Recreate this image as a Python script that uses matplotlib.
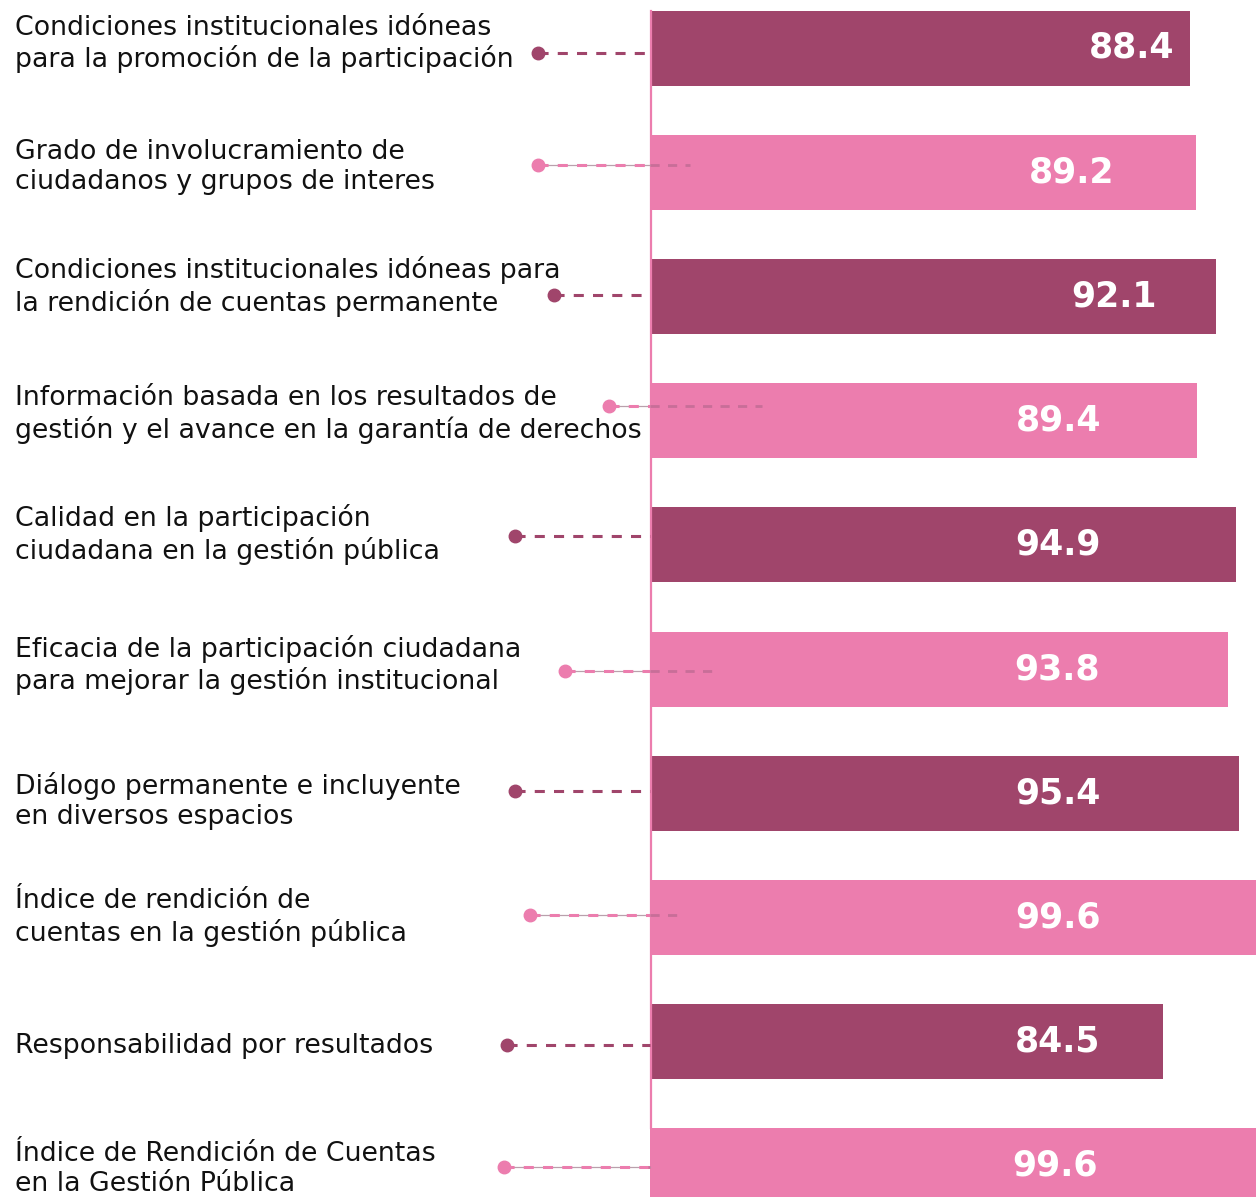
import matplotlib
matplotlib.use("Agg")
import matplotlib.pyplot as plt

categories = [
    "Condiciones institucionales idóneas\npara la promoción de la participación",
    "Grado de involucramiento de\nciudadanos y grupos de interes",
    "Condiciones institucionales idóneas para\nla rendición de cuentas permanente",
    "Información basada en los resultados de\ngestión y el avance en la garantía de derechos",
    "Calidad en la participación\nciudadana en la gestión pública",
    "Eficacia de la participación ciudadana\npara mejorar la gestión institucional",
    "Diálogo permanente e incluyente\nen diversos espacios",
    "Índice de rendición de\ncuentas en la gestión pública",
    "Responsabilidad por resultados",
    "Índice de Rendición de Cuentas\nen la Gestión Pública",
]
values = [88.4, 89.2, 92.1, 89.4, 94.9, 93.8, 95.4, 99.6, 84.5, 99.6]

DARK = "#A0456B"
PINK = "#EC7DAE"
colors = [DARK if i % 2 == 0 else PINK for i in range(len(values))]

# layout (pixels) - connector start / end, vertical nudges, value label nudges
W, H = 1256, 1197
dot_x = [538, 538, 554, 609, 515, 565, 515, 530, 507, 504]
dash_end = [650, 690, 650, 762, 650, 716, 650, 682, 650, 648]
dot_dy = [5, -7, -1, -15, -9, 2, -2, -2, 3, 1]
text_dy = [-4, -5, -10, -6, -10, -4, 8, 0, 4, 3]
label_nudge = [74, 14, 56, 1, 0, -1, 0, 0, 0, -3]
BAR0, STEP, BAR_H = 48, 124.2, 75
X0_PX, PX_PER_UNIT, V0 = 650, 7.015, 11.38

fig = plt.figure(figsize=(W / 100, H / 100), dpi=100)
ax = fig.add_axes([X0_PX / W, 0, (W - X0_PX) / W, 1])
ys = list(range(len(values)))
ax.barh(ys, values, height=BAR_H / STEP, color=colors, zorder=2)
ax.set_xlim(V0, V0 + (W - X0_PX) / PX_PER_UNIT)
ax.set_ylim((H - BAR0) / STEP, -BAR0 / STEP)
ax.axis("off")

for i, v in enumerate(values):
    lx = V0 + (1058 + label_nudge[i] - X0_PX) / PX_PER_UNIT
    ax.text(lx, i, "{0:.1f}".format(v), color="white", fontsize=25,
            fontweight="bold", ha="center", va="center", zorder=3)

# overlay in pixel coords for texts and connectors
ov = fig.add_axes([0, 0, 1, 1])
ov.set_xlim(0, W)
ov.set_ylim(H, 0)
ov.axis("off")

ov.plot([651, 651], [BAR0 - BAR_H / 2, BAR0 + STEP * 9 - BAR_H / 2],
        color=PINK, lw=1.6, zorder=1)

for i, cat in enumerate(categories):
    yc = BAR0 + STEP * i
    ov.text(15, yc + text_dy[i], cat, fontsize=19.3, color="#111111",
            ha="left", va="center", linespacing=1.22)
    yd = yc + dot_dy[i]
    if colors[i] == DARK:
        ov.plot([dot_x[i], dash_end[i]], [yd, yd], color=DARK, lw=2.2,
                linestyle=(0, (3.3, 3.0)), zorder=3)
    else:
        ov.plot([dot_x[i], 650], [yd, yd], color="#B9A0AC", lw=0.9, zorder=3)
        ov.plot([dot_x[i], 650], [yd, yd], color=PINK, lw=2.2,
                linestyle=(0, (3.3, 3.0)), zorder=3)
        ov.plot([650, dash_end[i]], [yd, yd], color="#C86E98", lw=2.0,
                linestyle=(0, (3.3, 3.0)), zorder=3)
    ov.plot([dot_x[i]], [yd], "o", color=colors[i], ms=9, zorder=4)

fig.savefig("out.png", dpi=100)
